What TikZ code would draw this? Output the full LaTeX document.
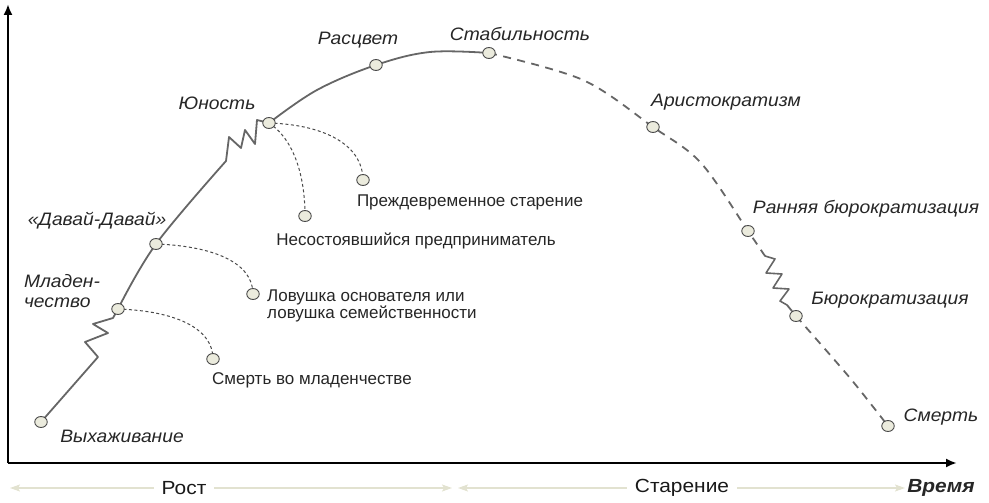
\documentclass[tikz,border=0pt]{standalone}
\usepackage{fontspec}
\setmainfont{Liberation Sans}
\newfontfamily\stagefont[FakeStretch=1.07]{Liberation Sans}
\newfontfamily\wideplain[FakeStretch=1.1]{Liberation Sans}
\usetikzlibrary{arrows.meta,shapes.geometric}
\pgfdeclarelayer{bg}
\pgfsetlayers{bg,main}
\definecolor{curvegray}{HTML}{666666}
\definecolor{dotfill}{HTML}{EBEBDD}
\definecolor{dotline}{HTML}{4A4A4A}
\definecolor{beige}{HTML}{E2E2D0}
\begin{document}
\begin{tikzpicture}[x=1pt,y=-1pt,
 dot/.style={ellipse, draw=dotline, fill=dotfill, line width=0.9pt, minimum width=12.5pt, minimum height=11pt, inner sep=0pt},
 stage/.style={font=\stagefont\fontsize{18}{19.5}\selectfont\itshape, inner sep=0pt, text=black!85, align=left},
 note/.style={font=\fontsize{17}{16.5}\selectfont, inner sep=0pt, text=black!85, align=left},
 phasetext/.style={font=\wideplain\fontsize{19}{20}\selectfont, inner sep=0pt, text=black!90, fill=white, inner xsep=8pt, inner ysep=3pt},
 curve/.style={draw=curvegray, line width=1.8pt, line join=round, line cap=round},
 decline/.style={draw=curvegray, line width=1.8pt, dash pattern=on 8pt off 6.5pt},
 branch/.style={draw=dotline, line width=1pt, dash pattern=on 3pt off 2.5pt},
 axis/.style={line width=2.8pt, -{Latex[length=11pt,width=9pt]}},
 phase/.style={draw=beige, line width=1.4pt, {Stealth[length=10pt,width=7pt,inset=2pt]}-{Stealth[length=10pt,width=7pt,inset=2pt]}}
]
\useasboundingbox (0,0) rectangle (989,503);

% axes
\coordinate (origin) at (8,463);
\coordinate (ytop) at (8,4);
\coordinate (xend) at (957,463);
\draw[axis] (origin) -- (ytop);
\draw[axis] (origin) -- (xend);

% phase arrows
\coordinate (g1) at (10,488);
\coordinate (g2) at (452,488);
\coordinate (s1) at (458,488);
\coordinate (s2) at (905,488);
\draw[phase] (g1) -- (g2);
\draw[phase] (s1) -- (s2);
\node[phasetext] (growth) at (184,488) {Рост};
\node[phasetext] (aging) at (682,488) {Старение};
\node[stage, font=\wideplain\fontsize{19}{20}\selectfont\bfseries\itshape] (time) at (941,488) {Время};

% stage dots
\node[dot] (vyh) at (41,422) {};
\node[dot] (mlad) at (118,309) {};
\node[dot] (davai) at (156,244) {};
\node[dot] (yun) at (269,123) {};
\node[dot] (rasc) at (376,65) {};
\node[dot] (stab) at (489,53) {};
\node[dot] (arist) at (653,127) {};
\node[dot] (rbur) at (748,231) {};
\node[dot] (bur) at (796,316) {};
\node[dot] (death) at (888,426) {};
% trap dots
\node[dot] (sdeath) at (213,359) {};
\node[dot] (trap) at (253,294) {};
\node[dot] (fail) at (305,216) {};
\node[dot] (prem) at (363,180) {};

% waypoints
\coordinate (z1a) at (98,357);
\coordinate (z1b) at (85,342);
\coordinate (z1c) at (108,333);
\coordinate (z1d) at (93,324);
\coordinate (z1e) at (113,318);
\coordinate (z2a) at (226,161);
\coordinate (z2b) at (229,137);
\coordinate (z2c) at (241,148);
\coordinate (z2d) at (245,130);
\coordinate (z2e) at (255,144);
\coordinate (z2f) at (257,120);
\coordinate (w1) at (317,90);
\coordinate (w2) at (430,52);
\coordinate (w3) at (583,80);
\coordinate (w4) at (701,163);
\coordinate (z3a) at (765,256);
\coordinate (z3b) at (775,259);
\coordinate (z3c) at (766,273);
\coordinate (z3d) at (782,274);
\coordinate (z3e) at (773,288);
\coordinate (z3f) at (789,289);
\coordinate (z3g) at (780,301);
\coordinate (z3h) at (787,305);
\coordinate (w5) at (850,378);

\begin{pgfonlayer}{bg}
\draw[curve] (vyh.center) -- (z1a) -- (z1b) -- (z1c) -- (z1d) -- (z1e) -- (mlad.center);
\draw[curve] plot[smooth, tension=0.6] coordinates {(mlad.center) (davai.center) (z2a)};
\draw[curve] (z2a) -- (z2b) -- (z2c) -- (z2d) -- (z2e) -- (z2f) -- (yun.center);
\draw[curve] plot[smooth, tension=0.6] coordinates {(yun.center) (w1) (rasc.center) (w2) (stab.center)};
\draw[decline] plot[smooth, tension=0.55] coordinates {(stab.center) (w3) (arist.center) (w4) (rbur.center) (z3a)};
\draw[curve, line width=1.6pt] (z3a) -- (z3b) -- (z3c) -- (z3d) -- (z3e) -- (z3f) -- (z3g) -- (z3h);
\draw[decline] (z3h) -- (bur.center);
\draw[decline] plot[smooth, tension=0.5] coordinates {(bur.center) (w5) (death.center)};
% branches
\draw[branch] (mlad.center) .. controls (175,311) and (213,328) .. (sdeath.center);
\draw[branch] (davai.center) .. controls (212,246) and (253,262) .. (trap.center);
\draw[branch] (yun.center) .. controls (330,125) and (363,148) .. (prem.center);
\draw[branch] (yun.center) .. controls (292,138) and (305,172) .. (fail.center);
\end{pgfonlayer}

% stage labels
\node[stage] (lvyh) at (122,436) {Выхаживание};
\node[stage, align=left] (lmlad) at (62,291) {Младен-\\чество};
\node[stage] (ldavai) at (97,221) {«Давай-Давай»};
\node[stage] (lyun) at (217,103) {Юность};
\node[stage] (lrasc) at (358,40) {Расцвет};
\node[stage] (lstab) at (520,34) {Стабильность};
\node[stage] (larist) at (726,102) {Аристократизм};
\node[stage] (lrbur) at (866,209) {Ранняя бюрократизация};
\node[stage] (lbur) at (890,300) {Бюрократизация};
\node[stage] (ldeath) at (941,417) {Смерть};

% trap labels
\node[note] (lsdeath) at (312,380) {Смерть во младенчестве};
\node[note, anchor=west] (ltrap) at (267,306) {Ловушка основателя или\\ловушка семейственности};
\node[note] (lfail) at (416,241) {Несостоявшийся предприниматель};
\node[note] (lprem) at (470,202) {Преждевременное старение};
\end{tikzpicture}
\end{document}
